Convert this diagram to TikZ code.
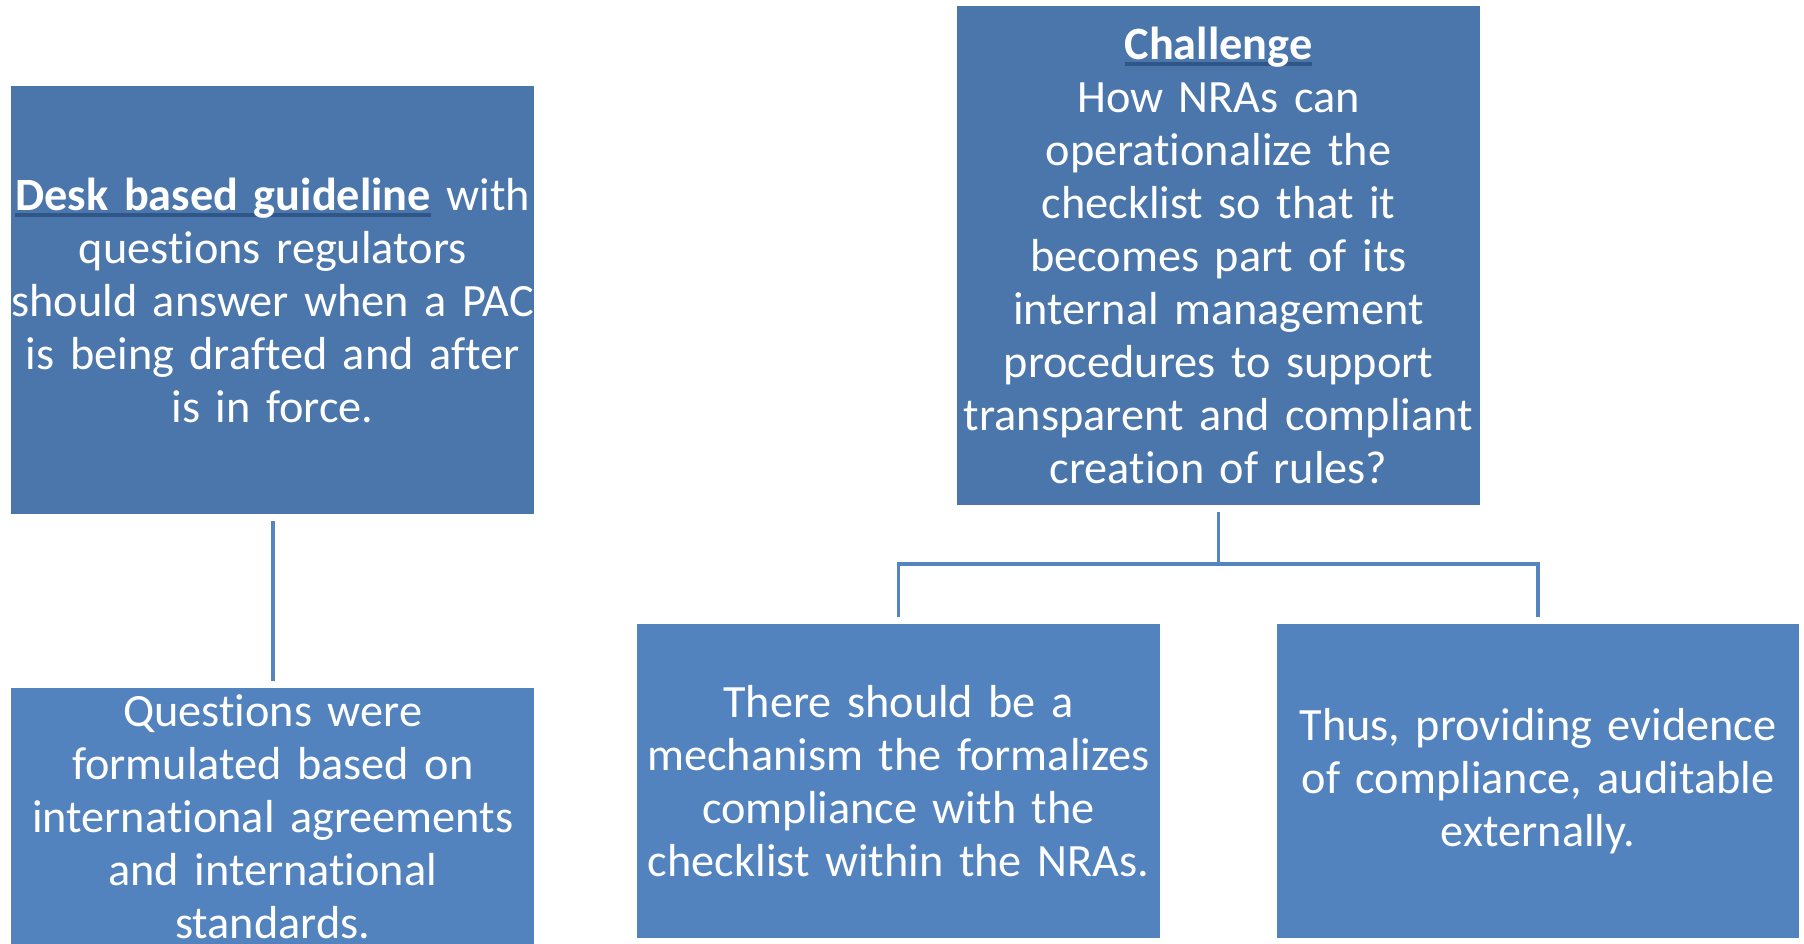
\documentclass[tikz,border=0pt]{standalone}
\usepackage{fontspec}
\setmainfont{Carlito}[Ligatures=NoCommon]
\definecolor{topblue}{HTML}{4A76AB}
\definecolor{botblue}{HTML}{5283BF}
\definecolor{linkblue}{HTML}{5585C0}
\definecolor{ulblue}{HTML}{2F5687}
\newsavebox{\ulbox}
\newcommand{\blueul}[1]{\sbox{\ulbox}{#1}\rlap{\textcolor{ulblue}{\rule[-0.14em]{\wd\ulbox}{0.08em}}}\usebox{\ulbox}}
\tikzset{
  boxbase/.style={rectangle, inner sep=0pt, align=center, text=white,
    font=\fontsize{46.3}{53}\selectfont},
  topbox/.style={boxbase, fill=topblue},
  botbox/.style={boxbase, fill=botblue},
  conn/.style={draw=linkblue, line width=3.6pt, shorten <=7pt, shorten >=7pt}
}
\begin{document}
\begin{tikzpicture}[x=1pt,y=-1pt]
\useasboundingbox (0,0) rectangle (1804,943);
\node[topbox, minimum width=523pt, minimum height=428pt, text width=523pt] (desk) at (272.75,300)
  {\blueul{\textbf{Desk based guideline}} with\\questions regulators\\should answer when a PAC\\is being drafted and after\\is in force.};
\node[topbox, minimum width=523pt, minimum height=499pt, text width=523pt] (chal) at (1218.5,255.5)
  {\blueul{\textbf{Challenge}}\\How NRAs can\\operationalize the\\checklist so that it\\becomes part of its\\internal management\\procedures to support\\transparent and compliant\\creation of rules?};
\node[botbox, minimum width=523pt, minimum height=258pt, text width=523pt] (quest) at (272.75,817)
  {Questions were\\formulated based on\\international agreements\\and international\\standards.};
\node[botbox, minimum width=523pt, minimum height=314pt, text width=523pt] (mech) at (898.5,781)
  {There should be a\\mechanism the formalizes\\compliance with the\\checklist within the NRAs.};
\node[botbox, minimum width=522pt, minimum height=314pt, text width=522pt] (thus) at (1538,781)
  {Thus, providing evidence\\of compliance, auditable\\externally.};
\coordinate (junc) at (1218.5,564);
\draw[conn] (desk.south) -- (quest.north);
\draw[conn] (chal.south) -- (junc) -| (mech.north);
\draw[conn] (chal.south) -- (junc) -| (thus.north);
\end{tikzpicture}
\end{document}
